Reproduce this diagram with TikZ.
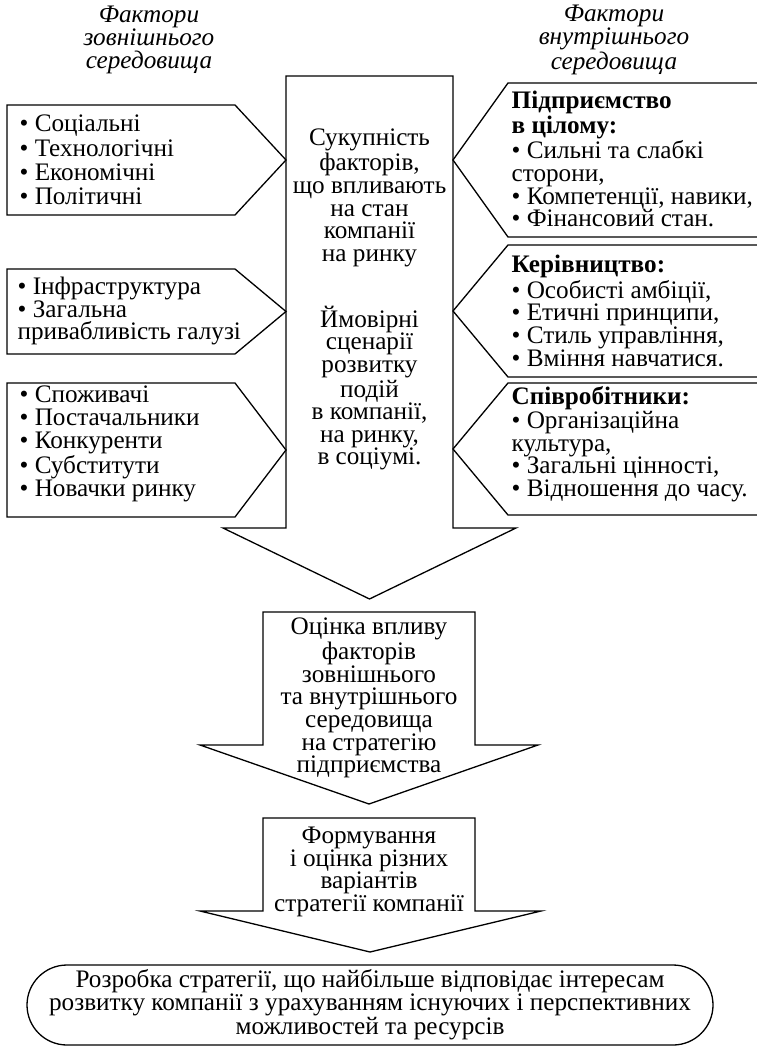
\documentclass[tikz,border=0pt]{standalone}
\usepackage{fontspec}
\setmainfont{Liberation Serif}
\usepackage{tikz}

\begin{document}
\begin{tikzpicture}[x=0.5pt, y=-0.5pt, line width=0.65pt,
  txt/.style={inner sep=0pt, align=center, font=\fontsize{12.6}{11.3}\selectfont},
  lst/.style={inner sep=0pt, align=left, anchor=west, font=\fontsize{12.6}{11.3}\selectfont},
  hdr/.style={inner sep=0pt, align=center, font=\fontsize{12.6}{11.3}\selectfont\itshape}]
\useasboundingbox (0,0) rectangle (756,1047);
\node[hdr] (hext) at (149,40) {Фактори\\зовнішнього\\середовища};
\node[hdr] (hint) at (614,40) {Фактори\\внутрішнього\\середовища};
% central arrow
\draw (286,528) -- (286,76) -- (453,76) -- (453,528) -- (516,528) -- (369.5,599) -- (223,528) -- cycle;
\node[txt] (sum) at (369.5,198) {Сукупність\\факторів,\\що впливають\\на стан\\компанії\\на ринку};
\node[txt] (scen) at (369.5,388) {Ймовірні\\сценарії\\розвитку\\подій\\в компанії,\\на ринку,\\в соціумі.};
% external factors
\draw (7,105) -- (235,105) -- (286,160) -- (235,215) -- (7,215) -- cycle;
\draw (7,269) -- (235,269) -- (286,311.5) -- (235,354) -- (7,354) -- cycle;
\draw (7,383) -- (235,383) -- (286,450) -- (235,517) -- (7,517) -- cycle;
\node[lst, font=\fontsize{12.6}{12.1}\selectfont] (ext1) at (19,160) {\textbullet{} Соціальні\\\textbullet{} Технологічні\\\textbullet{} Економічні\\\textbullet{} Політичні};
\node[lst] (ext2) at (17,311) {\textbullet{} Інфраструктура\\\textbullet{} Загальна\\привабливість галузі};
\node[lst] (ext3) at (19,444) {\textbullet{} Споживачі\\\textbullet{} Постачальники\\\textbullet{} Конкуренти\\\textbullet{} Субститути\\\textbullet{} Новачки ринку};
% internal factors
\draw (760,83) -- (508,83) -- (453,160) -- (508,237) -- (760,237);
\draw (760,245) -- (508,245) -- (453,311) -- (508,377) -- (760,377);
\draw (760,383) -- (508,383) -- (453,449) -- (508,515) -- (760,515);
\node[lst] (int1) at (511,159) {\textbf{Підприємство}\\\textbf{в цілому:}\\\textbullet{} Сильні та слабкі\\сторони,\\\textbullet{} Компетенції, навики,\\\textbullet{} Фінансовий стан.};
\node[lst] (int2) at (511,311) {\textbf{Керівництво:}\\\textbullet{} Особисті амбіції,\\\textbullet{} Етичні принципи,\\\textbullet{} Стиль управління,\\\textbullet{} Вміння навчатися.};
\node[lst] (int3) at (511,444) {\textbf{Співробітники:}\\\textbullet{} Організаційна\\культура,\\\textbullet{} Загальні цінності,\\\textbullet{} Відношення до часу.};
% evaluation
\draw (263,745) -- (263,612) -- (475,612) -- (475,745) -- (538,745) -- (369,804) -- (200,745) -- cycle;
\node[txt] (eval) at (369,698) {Оцінка впливу\\факторів\\зовнішнього\\та внутрішнього\\середовища\\на стратегію\\підприємства};
\draw (263,911) -- (263,818) -- (475,818) -- (475,911) -- (541,911) -- (370,952) -- (200,911) -- cycle;
\node[txt] (form) at (369,872) {Формування\\і оцінка різних\\варіантів\\стратегії компанії};
\node[txt, draw, rounded corners=20pt, minimum width=343pt, minimum height=40pt] (res) at (370,1005) {Розробка стратегії, що найбільше відповідає інтересам\\розвитку компанії з урахуванням існуючих і перспективних\\можливостей та ресурсів};
\end{tikzpicture}
\end{document}
